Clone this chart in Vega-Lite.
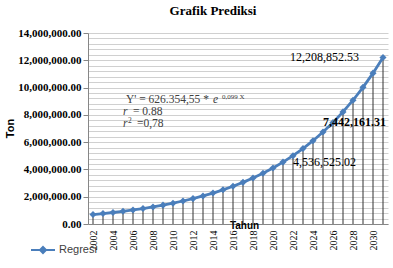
{
  "$schema": "https://vega.github.io/schema/vega-lite/v6.json",
  "width": 300,
  "height": 191,
  "autosize": "none",
  "padding": {"left": 88, "top": 33, "right": 5, "bottom": 44},
  "background": "white",
  "config": {"view": {"stroke": null}},
  "title": {"text": "Grafik Prediksi", "font": "Liberation Serif", "fontSize": 13, "fontWeight": "bold", "color": "#000000", "dx": -25, "offset": 9},
  "data": {"values": [
    {"year": 2002, "value": 691538},
    {"year": 2003, "value": 763504},
    {"year": 2004, "value": 842959},
    {"year": 2005, "value": 930683},
    {"year": 2006, "value": 1027536},
    {"year": 2007, "value": 1134468},
    {"year": 2008, "value": 1252528},
    {"year": 2009, "value": 1382874},
    {"year": 2010, "value": 1526785},
    {"year": 2011, "value": 1685672},
    {"year": 2012, "value": 1861094},
    {"year": 2013, "value": 2054772},
    {"year": 2014, "value": 2268605},
    {"year": 2015, "value": 2504691},
    {"year": 2016, "value": 2765346},
    {"year": 2017, "value": 3053126},
    {"year": 2018, "value": 3370855},
    {"year": 2019, "value": 3721649},
    {"year": 2020, "value": 4108949},
    {"year": 2021, "value": 4536525.02},
    {"year": 2022, "value": 5008660},
    {"year": 2023, "value": 5529895},
    {"year": 2024, "value": 6105374},
    {"year": 2025, "value": 6740742},
    {"year": 2026, "value": 7442161.31},
    {"year": 2027, "value": 8216721},
    {"year": 2028, "value": 9071809},
    {"year": 2029, "value": 10015882},
    {"year": 2030, "value": 11058199},
    {"year": 2031, "value": 12208852.53}
  ]},
  "encoding": {
    "x": {
      "field": "year", "type": "ordinal",
      "scale": {"type": "point", "padding": 0.5},
      "axis": {
        "values": [2002, 2004, 2006, 2008, 2010, 2012, 2014, 2016, 2018, 2020, 2022, 2024, 2026, 2028, 2030],
        "labelAngle": -90, "ticks": false, "grid": false,
        "domainColor": "#868686", "labelFont": "Liberation Serif", "labelFontSize": 10, "labelColor": "#000000", "labelPadding": 6,
        "title": "Tahun", "titleFont": "Liberation Sans", "titleFontWeight": "bold", "titleFontSize": 10, "titleColor": "#000000",
        "titleX": 156, "titleY": 1, "titleBaseline": "middle", "titleAlign": "center"
      }
    },
    "y": {
      "field": "value", "type": "quantitative",
      "scale": {"domain": [0, 14000000], "nice": false},
      "axis": {
        "title": "Ton",
        "values": [0, 400000, 800000, 1200000, 1600000, 2000000, 2400000, 2800000, 3200000, 3600000, 4000000, 4400000, 4800000, 5200000, 5600000, 6000000, 6400000, 6800000, 7200000, 7600000, 8000000, 8400000, 8800000, 9200000, 9600000, 10000000, 10400000, 10800000, 11200000, 11600000, 12000000, 12400000, 12800000, 13200000, 13600000, 14000000],
        "labelExpr": "datum.value % 2000000 == 0 ? format(datum.value, ',.2f') : ''",
        "labelOverlap": false, "labelBound": false,
        "labelFont": "Liberation Serif", "labelFontWeight": "bold", "labelFontSize": 11, "labelColor": "#000000", "labelPadding": 2,
        "tickOpacity": {"condition": {"test": "datum.value % 2000000 == 0", "value": 1}, "value": 0},
        "tickColor": "#868686", "tickSize": 5,
        "gridColor": "#d0d0d0", "domainColor": "#868686",
        "titleFont": "Liberation Sans", "titleFontWeight": "bold", "titleFontSize": 11, "titleColor": "#000000",
        "titleX": -75, "titleY": 95, "titleAlign": "center", "titleBaseline": "alphabetic", "titleAngle": -90
      }
    }
  },
  "layer": [
    {"mark": {"type": "rule", "color": "#333333", "strokeWidth": 1}, "encoding": {"y2": {"datum": 0}}},
    {
      "mark": {"type": "line", "strokeWidth": 2.8, "point": {"shape": "diamond", "size": 50, "filled": true, "color": "#3d6fae"}},
      "encoding": {
        "color": {"datum": "Regresi", "type": "nominal", "scale": {"range": ["#4a7ebb"]},
          "legend": {"orient": "none", "legendX": -58, "legendY": 204, "title": null, "labelFont": "Liberation Sans", "labelFontSize": 11, "labelColor": "#404040", "labelOffset": 3,
            "symbolType": "M-1,0H1M0,-0.25L0.25,0L0,0.25L-0.25,0Z", "symbolSize": 576, "symbolStrokeWidth": 2, "symbolFillColor": "#4a7ebb", "symbolStrokeColor": "#4a7ebb"}}
      }
    },
    {"transform": [{"filter": "datum.year == 2031"}], "mark": {"type": "text", "align": "right", "baseline": "middle", "dx": -24, "font": "Liberation Serif", "fontSize": 12, "color": "#000000"}, "encoding": {"text": {"field": "value", "type": "quantitative", "format": ",.2f"}}},
    {"transform": [{"filter": "datum.year == 2026"}], "mark": {"type": "text", "align": "left", "baseline": "middle", "dx": -10, "font": "Liberation Serif", "fontSize": 12, "fontWeight": "bold", "color": "#000000"}, "encoding": {"text": {"field": "value", "type": "quantitative", "format": ",.2f"}}},
    {"transform": [{"filter": "datum.year == 2021"}], "mark": {"type": "text", "align": "left", "baseline": "middle", "dx": 10, "font": "Liberation Serif", "fontSize": 12, "color": "#000000"}, "encoding": {"text": {"field": "value", "type": "quantitative", "format": ",.2f"}}},
    {"transform": [{"filter": "datum.year == 2005"}], "mark": {"type": "text", "align": "left", "baseline": "middle", "dx": 3, "font": "Liberation Serif", "fontSize": 11.5, "color": "#404040", "text": "Y' = 626.354,55 *"},
      "encoding": {"y": {"datum": 9089000, "type": "quantitative"}}},
    {"transform": [{"filter": "datum.year == 2014"}], "mark": {"type": "text", "align": "left", "baseline": "middle", "dx": 0, "font": "Liberation Serif", "fontSize": 11.5, "fontStyle": "italic", "color": "#404040", "text": "e"},
      "encoding": {"y": {"datum": 9089000, "type": "quantitative"}}},
    {"transform": [{"filter": "datum.year == 2015"}], "mark": {"type": "text", "align": "left", "baseline": "middle", "dx": -1, "font": "Liberation Serif", "fontSize": 7, "color": "#404040", "text": "0,099 X"},
      "encoding": {"y": {"datum": 9309000, "type": "quantitative"}}},
    {"transform": [{"filter": "datum.year == 2005"}], "mark": {"type": "text", "align": "left", "baseline": "middle", "dx": 0, "font": "Liberation Serif", "fontSize": 11.5, "fontStyle": "italic", "color": "#404040", "text": "r"},
      "encoding": {"y": {"datum": 8209000, "type": "quantitative"}}},
    {"transform": [{"filter": "datum.year == 2006"}], "mark": {"type": "text", "align": "left", "baseline": "middle", "dx": 0, "font": "Liberation Serif", "fontSize": 11.5, "color": "#404040", "text": "= 0.88"},
      "encoding": {"y": {"datum": 8209000, "type": "quantitative"}}},
    {"transform": [{"filter": "datum.year == 2005"}], "mark": {"type": "text", "align": "left", "baseline": "middle", "dx": 0, "font": "Liberation Serif", "fontSize": 11.5, "fontStyle": "italic", "color": "#404040", "text": "r"},
      "encoding": {"y": {"datum": 7330000, "type": "quantitative"}}},
    {"transform": [{"filter": "datum.year == 2005"}], "mark": {"type": "text", "align": "left", "baseline": "middle", "dx": 5, "font": "Liberation Serif", "fontSize": 7.5, "color": "#404040", "text": "2"},
      "encoding": {"y": {"datum": 7550000, "type": "quantitative"}}},
    {"transform": [{"filter": "datum.year == 2006"}], "mark": {"type": "text", "align": "left", "baseline": "middle", "dx": 4, "font": "Liberation Serif", "fontSize": 11.5, "color": "#404040", "text": "=0,78"},
      "encoding": {"y": {"datum": 7330000, "type": "quantitative"}}}
  ]
}
